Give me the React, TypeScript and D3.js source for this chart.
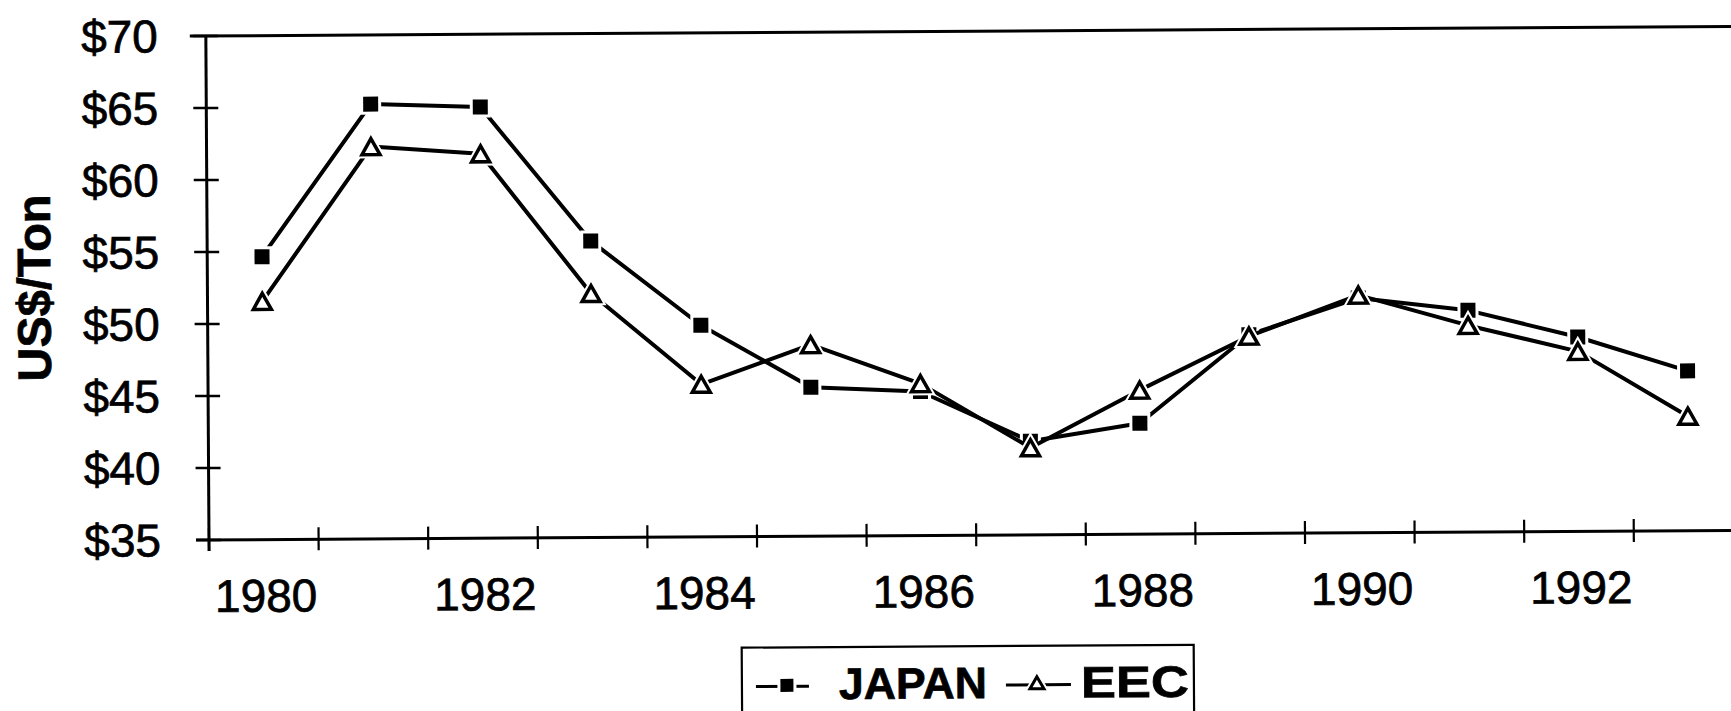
import React from "react";
import * as d3 from "d3";

const years = [1980, 1981, 1982, 1983, 1984, 1985, 1986, 1987, 1988, 1989, 1990, 1991, 1992, 1993];
const japan = [54.65, 65.2, 64.95, 55.6, 49.7, 45.35, 45.0, 41.5, 42.7, 48.8, 51.3, 50.4, 48.5, 46.1];
const eec = [51.55, 62.25, 61.7, 51.95, 45.6, 48.3, 45.55, 41.05, 45.0, 48.7, 51.5, 49.35, 47.5, 42.95];
const xLabelYears = [1980, 1982, 1984, 1986, 1988, 1990, 1992];
const yTicks = [35, 40, 45, 50, 55, 60, 65, 70];
const seriesNames = ["JAPAN", "EEC"];

const W = 1731;
const H = 711;
const X0 = 209;
const BAND = 109.6;
const Y_BOTTOM = 540;
const Y_TOP = 36;
const FONT = "'Liberation Sans', Arial, Helvetica, sans-serif";

function Square({ cx, cy, s }: { cx: number; cy: number; s: number }) {
  return (
    <g>
      <rect x={cx - s / 2 - 3} y={cy - s / 2 - 3} width={s + 6} height={s + 6} fill="#fff" />
      <rect x={cx - s / 2} y={cy - s / 2} width={s} height={s} fill="#000" />
    </g>
  );
}

function Triangle({ cx, cy, w, h, sw }: { cx: number; cy: number; w: number; h: number; sw: number }) {
  const d = `M${cx},${cy - h / 2}L${cx + w / 2},${cy + h / 2}L${cx - w / 2},${cy + h / 2}Z`;
  return (
    <g>
      <path d={d} fill="#fff" stroke="#fff" strokeWidth={sw + 4} strokeLinejoin="miter" />
      <path d={d} fill="#fff" stroke="#000" strokeWidth={sw} strokeLinejoin="miter" />
    </g>
  );
}

export default function App() {
  const x = d3
    .scaleBand<number>()
    .domain(years)
    .range([X0, X0 + BAND * years.length])
    .paddingInner(0)
    .paddingOuter(0);
  const y = d3.scaleLinear().domain([35, 70]).range([Y_BOTTOM, Y_TOP]);
  const cx = (yr: number) => (x(yr) as number) + x.bandwidth() / 2;

  const line = d3
    .line<number>()
    .x((_, i) => cx(years[i]))
    .y((v) => y(v));

  const tickXs = years.map((yr) => x(yr) as number);
  const textStroke = { stroke: "#000", strokeWidth: 0.7 };

  return (
    <svg
      width={W}
      height={H}
      viewBox={`0 0 ${W} ${H}`}
      style={{ position: "absolute", left: 0, top: 0, background: "#fff" }}
    >
      <rect x={0} y={0} width={W} height={H} fill="#fff" />
      <g transform={`rotate(-0.36, ${X0}, ${Y_BOTTOM})`}>
        {/* Y axis title */}
        <text
          transform={`translate(52, 287) rotate(-90)`}
          textAnchor="middle"
          fontFamily={FONT}
          fontWeight="bold"
          fontSize={47}
          fill="#000"
          {...textStroke}
        >
          US$/Ton
        </text>

        {/* top frame line */}
        <line x1={193} x2={W + 40} y1={y(70)} y2={y(70)} stroke="#000" strokeWidth={3} />
        {/* y axis */}
        <line x1={X0} x2={X0} y1={y(70)} y2={Y_BOTTOM + 11} stroke="#000" strokeWidth={3} />
        {/* x axis */}
        <line x1={196} x2={W + 40} y1={Y_BOTTOM} y2={Y_BOTTOM} stroke="#000" strokeWidth={3} />

        {/* y ticks and labels */}
        {yTicks.map((t) => (
          <g key={t}>
            <line x1={196} x2={221} y1={y(t)} y2={y(t)} stroke="#000" strokeWidth={2.5} />
            <text
              x={161}
              y={y(t) + 16}
              textAnchor="end"
              fontFamily={FONT}
              fontSize={46}
              fill="#000"
              {...textStroke}
            >
              {`$${t}`}
            </text>
          </g>
        ))}

        {/* x ticks */}
        {tickXs.map((tx, i) => (
          <line key={i} x1={tx} x2={tx} y1={Y_BOTTOM - 12} y2={Y_BOTTOM + 11} stroke="#000" strokeWidth={2.2} />
        ))}
        {/* x labels */}
        {xLabelYears.map((yr) => (
          <text
            key={yr}
            x={cx(yr) + 2}
            y={612}
            textAnchor="middle"
            fontFamily={FONT}
            fontSize={46}
            fill="#000"
            {...textStroke}
          >
            {yr}
          </text>
        ))}

        {/* JAPAN series */}
        <path d={line(japan) || ""} fill="none" stroke="#000" strokeWidth={4} strokeLinejoin="round" />
        {japan.map((v, i) => (
          <Square key={`j${i}`} cx={cx(years[i])} cy={y(v)} s={15} />
        ))}

        {/* EEC series */}
        <path d={line(eec) || ""} fill="none" stroke="#000" strokeWidth={4} strokeLinejoin="round" />
        {eec.map((v, i) => (
          <Triangle key={`e${i}`} cx={cx(years[i])} cy={y(v)} w={18} h={16} sw={3.5} />
        ))}

        {/* Legend */}
        <rect x={741} y={651} width={452} height={90} fill="#fff" stroke="#000" strokeWidth={2.2} />
        <line x1={755} x2={808} y1={690} y2={690} stroke="#000" strokeWidth={3} />
        <Square cx={786} cy={689} s={13} />
        <text x={838} y={703} fontFamily={FONT} fontWeight="bold" fontSize={44} textLength={148} lengthAdjust="spacingAndGlyphs" fill="#000" {...textStroke}>
          {seriesNames[0]}
        </text>
        <line x1={1005} x2={1070} y1={690} y2={690} stroke="#000" strokeWidth={3} />
        <Triangle cx={1036} cy={688} w={14} h={12} sw={3} />
        <text x={1080} y={703} fontFamily={FONT} fontWeight="bold" fontSize={44} textLength={108} lengthAdjust="spacingAndGlyphs" fill="#000" {...textStroke}>
          {seriesNames[1]}
        </text>
      </g>
    </svg>
  );
}
